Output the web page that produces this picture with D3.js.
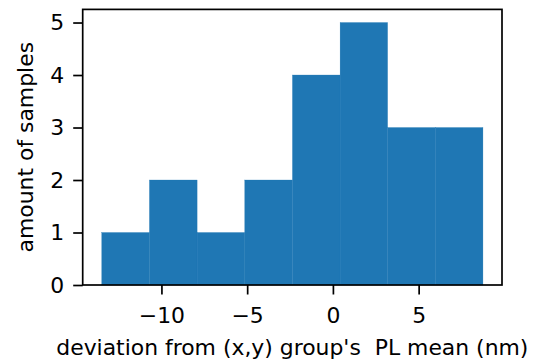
<!DOCTYPE html>
<html>
<head>
<meta charset="utf-8">
<script src="https://cdn.jsdelivr.net/npm/d3@7"></script>
<style>
  html, body { margin: 0; padding: 0; background: #fff; }
  svg { display: block; }
  text { font-family: "DejaVu Sans", sans-serif; fill: #000; }
</style>
</head>
<body>
<svg id="chart" width="537" height="362"></svg>
<script>
// Histogram of deviations: bin edges and the number of samples per bin
const binEdges = [-13.48, -10.70, -7.92, -5.14, -2.36, 0.42, 3.19, 5.97, 8.75];
const counts = [1, 2, 1, 2, 4, 5, 3, 3];
const xTicks = [-10, -5, 0, 5];
const yTicks = [0, 1, 2, 3, 4, 5];
const xLabel = "deviation from (x,y) group's\u00a0 PL mean (nm)";
const yLabel = "amount of samples";

const bins = counts.map((c, i) => ({ x0: binEdges[i], x1: binEdges[i + 1], count: c }));

const plot = { left: 82.7, right: 502, top: 9.4, bottom: 285 };
const fontSize = 21.9;
const tickLen = 9.5, tickPad = 8.3, yTickPad = 9, lineW = 1.7;

const svg = d3.select("#chart");

// Axis limits with a 5% margin around the data range, like the default histogram view
const span = binEdges[binEdges.length - 1] - binEdges[0];
const x = d3.scaleLinear()
  .domain([binEdges[0] - 0.05 * span, binEdges[binEdges.length - 1] + 0.05 * span])
  .range([plot.left, plot.right]);
const yMax = d3.max(counts);
const y = d3.scaleLinear()
  .domain([0, yMax * 1.05])
  .range([plot.bottom, plot.top]);

// Bars
svg.append("g")
  .selectAll("rect")
  .data(bins)
  .join("rect")
  .attr("x", d => x(d.x0))
  .attr("width", d => x(d.x1) - x(d.x0))
  .attr("y", d => y(d.count))
  .attr("height", d => y(0) - y(d.count))
  .attr("fill", "#1f77b4")
  .attr("stroke", "#1f77b4")
  .attr("stroke-width", 0.3);

// Bottom axis
const xAxis = svg.append("g")
  .attr("transform", `translate(0,${plot.bottom})`)
  .call(d3.axisBottom(x).tickValues(xTicks).tickSize(tickLen).tickPadding(tickPad)
    .tickFormat(d => d3.format("")(d).replace("-", "\u2212")));
xAxis.select(".domain").remove();
xAxis.selectAll(".tick line").attr("stroke", "#000").attr("stroke-width", lineW);
xAxis.selectAll(".tick text")
  .attr("font-size", fontSize)
  .attr("font-family", "DejaVu Sans")
  .attr("dy", "0.9em");

// Left axis
const yAxis = svg.append("g")
  .attr("transform", `translate(${plot.left},0)`)
  .call(d3.axisLeft(y).tickValues(yTicks).tickSize(tickLen).tickPadding(yTickPad)
    .tickFormat(d3.format("d")));
yAxis.select(".domain").remove();
yAxis.selectAll(".tick line").attr("stroke", "#000").attr("stroke-width", lineW);
yAxis.selectAll(".tick text")
  .attr("font-size", fontSize)
  .attr("font-family", "DejaVu Sans");

// Frame around the plotting area
svg.append("rect")
  .attr("x", plot.left)
  .attr("y", plot.top)
  .attr("width", plot.right - plot.left)
  .attr("height", plot.bottom - plot.top)
  .attr("fill", "none")
  .attr("stroke", "#000")
  .attr("stroke-width", lineW);

// Axis titles
svg.append("text")
  .attr("x", (plot.left + plot.right) / 2)
  .attr("y", 355)
  .attr("text-anchor", "middle")
  .attr("font-size", fontSize)
  .text(xLabel);

svg.append("text")
  .attr("transform", `translate(32.5,${(plot.top + plot.bottom) / 2}) rotate(-90)`)
  .attr("text-anchor", "middle")
  .attr("font-size", fontSize)
  .text(yLabel);
</script>
</body>
</html>
